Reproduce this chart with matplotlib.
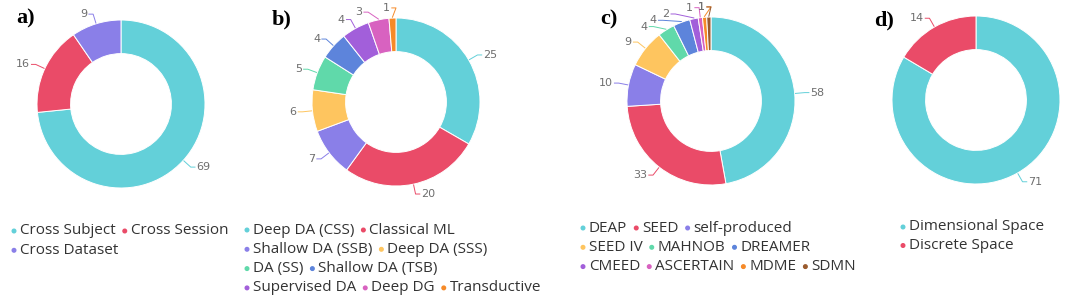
import math
import matplotlib
matplotlib.use("Agg")
from matplotlib import pyplot as plt
from matplotlib.patches import Circle
from matplotlib.transforms import IdentityTransform

W, H = 1065, 303

# a) evaluation protocol
a_labels = ["Cross Subject", "Cross Session", "Cross Dataset"]
a_values = [69, 16, 9]

# b) methods
b_labels = ["Deep DA (CSS)", "Classical ML", "Shallow DA (SSB)", "Deep DA (SSS)",
            "DA (SS)", "Shallow DA (TSB)", "Supervised DA", "Deep DG", "Transductive"]
b_values = [25, 20, 7, 6, 5, 4, 4, 3, 1]

# c) datasets
c_labels = ["DEAP", "SEED", "self-produced", "SEED IV", "MAHNOB", "DREAMER",
            "CMEED", "ASCERTAIN", "MDME", "SDMN"]
c_values = [58, 33, 10, 9, 4, 4, 2, 1, 1, 1]

# d) emotion model
d_labels = ["Dimensional Space", "Discrete Space"]
d_values = [71, 14]

palette = ["#63d0d9", "#ea4b68", "#8a7fe8", "#fec55f", "#60d9aa",
           "#5d84db", "#a25fda", "#d862c0", "#f68a28", "#9a5b2e"]

fig = plt.figure(figsize=(W / 100, H / 100), dpi=100)
R = 84
LEG_FONT = "Open Sans"
GAP = 0.075   # min vertical distance between value labels (axes units)
CAP = 1.12    # highest a value label may go
RL = 1.12     # ring on which the labels sit


def spread(ys):
    # keep labels of one side apart, moving clusters around their mean
    order = sorted(range(len(ys)), key=lambda i: ys[i])
    groups = []
    for i in order:
        groups.append([i])
        while len(groups) > 1:
            g1, g2 = groups[-2], groups[-1]
            m1 = sum(ys[j] for j in g1) / len(g1)
            m2 = sum(ys[j] for j in g2) / len(g2)
            top1 = m1 + (len(g1) - 1) / 2 * GAP
            bot2 = m2 - (len(g2) - 1) / 2 * GAP
            if bot2 - top1 < GAP:
                groups[-2:] = [g1 + g2]
            else:
                break
    out = [0] * len(ys)
    for g in groups:
        m = sum(ys[j] for j in g) / len(g)
        for k, j in enumerate(g):
            out[j] = min(m + (k - (len(g) - 1) / 2) * GAP, CAP)
    return out


def donut(cx, cy, values):
    ax = fig.add_axes([(cx - R) / W, 1 - (cy + R) / H, 2 * R / W, 2 * R / H])
    cols = palette[:len(values)]
    wedges, _ = ax.pie(values, colors=cols, startangle=90, counterclock=False, radius=1,
                       wedgeprops=dict(width=0.4, edgecolor="white", linewidth=0.7))
    ax.set_xlim(-1, 1)
    ax.set_ylim(-1, 1)
    ax.axis("off")

    items = []
    for w, v, c in zip(wedges, values, cols):
        ang = math.radians((w.theta1 + w.theta2) / 2)
        x, y = math.cos(ang), math.sin(ang)
        side = 1 if x > 1e-6 else -1
        items.append(dict(x=x, y=y, v=v, c=c, side=side, ly=RL * y))
    for s in (1, -1):
        grp = [it for it in items if it["side"] == s]
        new = spread([it["ly"] for it in grp])
        for it, ly in zip(grp, new):
            it["ly"] = ly
    for it in items:
        x0, y0 = it["x"] * 1.01, it["y"] * 1.01
        y1 = it["ly"]
        x1 = it["side"] * math.sqrt(max(RL ** 2 - y1 ** 2, 0))
        x2 = x1 + it["side"] * 0.05
        ax.plot([x0, x1, x2], [y0, y1, y1], color=it["c"], lw=0.7, clip_on=False)
        ax.text(x2 + it["side"] * 0.02, y1, str(it["v"]), fontsize=8, color="#6e6e6e",
                ha="left" if it["side"] > 0 else "right", va="center")
    return ax


def legend(x0, y0, labels, rows, step=19.3):
    renderer = fig.canvas.get_renderer()
    idx = 0
    y = y0
    for n in rows:
        x = x0
        for k in range(n):
            fig.add_artist(Circle((x, H - y), 1.8, color=palette[idx],
                                  transform=IdentityTransform()))
            t = fig.text(x + 6, H - y, labels[idx], transform=IdentityTransform(),
                         fontsize=11, family=LEG_FONT, color="#333333",
                         ha="left", va="center")
            wd = t.get_window_extent(renderer).width
            x += 6 + wd + 9
            idx += 1
        y += step


def panel(x, y, s):
    fig.text(x, H - y, s, transform=IdentityTransform(), family="Liberation Serif",
             fontweight="bold", fontsize=16, ha="left", va="top")


donut(121, 104, a_values)
donut(396, 102, b_values)
donut(711, 101, c_values)
donut(976, 100, d_values)

legend(14, 231, a_labels, [2, 1])
legend(247, 230, b_labels, [2, 2, 2, 3])
legend(583, 228, c_labels, [3, 3, 4])
legend(903, 227, d_labels, [1, 1], step=18.5)

panel(16, 8, "a)")
panel(272, 9, "b)")
panel(600, 9, "c)")
panel(874, 10, "d)")

fig.savefig("out.png", dpi=100)
